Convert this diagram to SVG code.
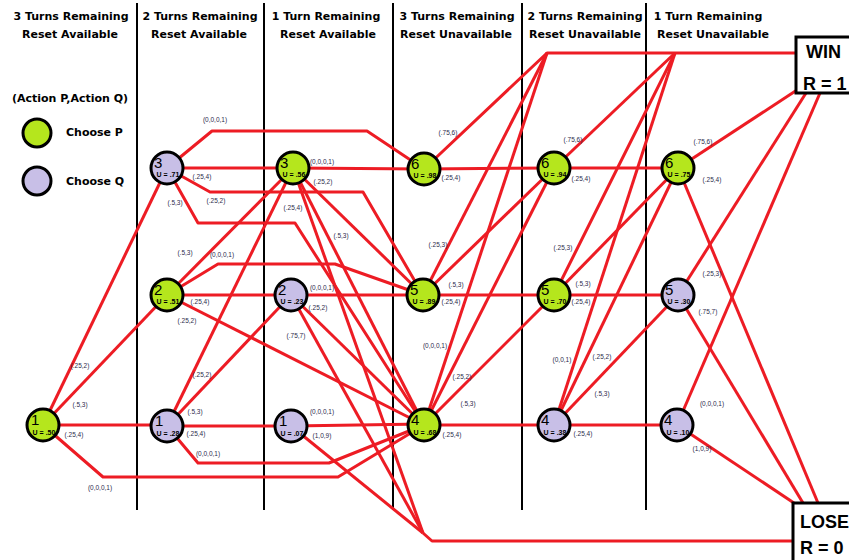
<svg xmlns="http://www.w3.org/2000/svg" width="849" height="560" viewBox="0 0 849 560">
<style>
.dv{stroke:#000;stroke-width:2}
.e{fill:none;stroke:#ed1c24;stroke-width:3;stroke-linejoin:round}
.h{font-family:"DejaVu Sans",sans-serif;font-weight:bold;font-size:11px;text-anchor:middle;fill:#000}
.nc{stroke:#000;stroke-width:3}
.g{fill:#b5e61d}
.p{fill:#c8bfe7}
.dg{font-family:"Liberation Sans",sans-serif;font-size:15px;fill:#000}
.u{font-family:"Liberation Sans",sans-serif;font-weight:bold;font-size:7px;text-anchor:middle;fill:#000}
.l{font-family:"Liberation Sans",sans-serif;font-size:6.5px;text-anchor:middle;fill:#2b2b4b}
.bx{fill:#fff;stroke:#000;stroke-width:3}
.bt{font-family:"Liberation Sans",sans-serif;font-weight:bold;font-size:18px;fill:#000}
</style>
<rect width="849" height="560" fill="#fff"/>
<g id="dividers">
<line class="dv" x1="137" y1="3" x2="137" y2="510"/>
<line class="dv" x1="264" y1="3" x2="264" y2="510"/>
<line class="dv" x1="393" y1="3" x2="393" y2="510"/>
<line class="dv" x1="522" y1="3" x2="522" y2="510"/>
<line class="dv" x1="646" y1="3" x2="646" y2="510"/>
</g>
<g id="headers">
<text class="h" x="71" y="20">3 Turns Remaining</text>
<text class="h" x="70" y="38">Reset Available</text>
<text class="h" x="200" y="20">2 Turns Remaining</text>
<text class="h" x="199" y="38">Reset Available</text>
<text class="h" x="326" y="20">1 Turn Remaining</text>
<text class="h" x="328" y="38">Reset Available</text>
<text class="h" x="457" y="20">3 Turns Remaining</text>
<text class="h" x="456" y="38">Reset Unavailable</text>
<text class="h" x="585" y="20">2 Turns Remaining</text>
<text class="h" x="585" y="38">Reset Unavailable</text>
<text class="h" x="708" y="20">1 Turn Remaining</text>
<text class="h" x="713" y="38">Reset Unavailable</text>
</g>
<g id="legend">
<text class="h" x="70" y="102">(Action P,Action Q)</text>
<circle class="nc g" cx="37" cy="133" r="14"/>
<text class="h" x="66" y="136" style="text-anchor:start">Choose P</text>
<circle class="nc p" cx="37" cy="181" r="14"/>
<text class="h" x="66" y="185" style="text-anchor:start">Choose Q</text>
</g>
<g id="connectors">
<path class="e" d="M43,425 L167,168"/>
<path class="e" d="M43,425 L167,295"/>
<path class="e" d="M43,425 L167,425"/>
<path class="e" d="M43,425 L103,477 L338,477 L424,425"/>
<path class="e" d="M167,426 L293,168"/>
<path class="e" d="M167,426 L291,295"/>
<path class="e" d="M167,426 L291,426"/>
<path class="e" d="M167,426 L198,463 L329,463 L424,425"/>
<path class="e" d="M167,168 L212,131 L367,131 L424,169"/>
<path class="e" d="M167,168 L293,168"/>
<path class="e" d="M167,168 L210,192 L363,192 L423,295"/>
<path class="e" d="M167,168 L198,223 L295,223 L424,425"/>
<path class="e" d="M167,295 L293,168"/>
<path class="e" d="M167,295 L218,264 L335,264 L423,295"/>
<path class="e" d="M167,295 L291,295"/>
<path class="e" d="M167,295 L424,425"/>
<path class="e" d="M293,168 L424,169"/>
<path class="e" d="M293,168 L423,295"/>
<path class="e" d="M293,168 L424,425"/>
<path class="e" d="M293,168 L423,533"/>
<path class="e" d="M291,295 L423,295"/>
<path class="e" d="M291,295 L424,425"/>
<path class="e" d="M291,295 L423,533"/>
<path class="e" d="M291,426 L424,424"/>
<path class="e" d="M291,426 L423,533"/>
<path class="e" d="M423,533 L432,541 L793,541"/>
<path class="e" d="M424,169 L547,53 L796,53"/>
<path class="e" d="M423,295 L547,53"/>
<path class="e" d="M424,425 L547,53"/>
<path class="e" d="M424,169 L554,168"/>
<path class="e" d="M423,295 L554,168"/>
<path class="e" d="M423,295 L554,295"/>
<path class="e" d="M424,425 L554,168"/>
<path class="e" d="M424,425 L554,295"/>
<path class="e" d="M424,425 L554,425"/>
<path class="e" d="M554,168 L675,53"/>
<path class="e" d="M554,295 L675,53"/>
<path class="e" d="M554,425 L675,53"/>
<path class="e" d="M554,168 L678,168"/>
<path class="e" d="M554,295 L678,168"/>
<path class="e" d="M554,295 L678,295"/>
<path class="e" d="M554,425 L678,168"/>
<path class="e" d="M554,425 L678,295"/>
<path class="e" d="M554,425 L677,425"/>
<path class="e" d="M678,168 L797,90"/>
<path class="e" d="M678,295 L806,93"/>
<path class="e" d="M677,425 L820,93"/>
<path class="e" d="M678,168 L818,503"/>
<path class="e" d="M678,295 L803,503"/>
<path class="e" d="M677,425 L794,503"/>
</g>
<g id="edge-labels">
<text class="l" x="80" y="368">(.25,2)</text>
<text class="l" x="80" y="407">(.5,3)</text>
<text class="l" x="74" y="437">(.25,4)</text>
<text class="l" x="100" y="490">(0,0,0,1)</text>
<text class="l" x="202" y="377">(.25,2)</text>
<text class="l" x="195" y="414">(.5,3)</text>
<text class="l" x="196" y="436">(.25,4)</text>
<text class="l" x="208" y="456">(0,0,0,1)</text>
<text class="l" x="215" y="122">(0,0,0,1)</text>
<text class="l" x="202" y="179">(.25,4)</text>
<text class="l" x="175" y="205">(.5,3)</text>
<text class="l" x="216" y="203">(.25,2)</text>
<text class="l" x="322" y="164">(0,0,0,1)</text>
<text class="l" x="323" y="184">(.25,2)</text>
<text class="l" x="293" y="210">(.25,4)</text>
<text class="l" x="341" y="238">(.5,3)</text>
<text class="l" x="185" y="255">(.5,3)</text>
<text class="l" x="222" y="257">(0,0,0,1)</text>
<text class="l" x="200" y="304">(.25,4)</text>
<text class="l" x="187" y="323">(.25,2)</text>
<text class="l" x="322" y="290">(0,0,0,1)</text>
<text class="l" x="318" y="310">(.25,2)</text>
<text class="l" x="296" y="338">(.75,7)</text>
<text class="l" x="322" y="414">(0,0,0,1)</text>
<text class="l" x="322" y="438">(1,0,9)</text>
<text class="l" x="448" y="135">(.75,6)</text>
<text class="l" x="451" y="180">(.25,4)</text>
<text class="l" x="438" y="247">(.25,3)</text>
<text class="l" x="456" y="287">(.5,3)</text>
<text class="l" x="451" y="304">(.25,4)</text>
<text class="l" x="435" y="348">(0,0,0,1)</text>
<text class="l" x="462" y="379">(.25,2)</text>
<text class="l" x="468" y="406">(.5,3)</text>
<text class="l" x="452" y="437">(.25,4)</text>
<text class="l" x="573" y="142">(.75,6)</text>
<text class="l" x="581" y="181">(.25,4)</text>
<text class="l" x="563" y="250">(.25,3)</text>
<text class="l" x="583" y="286">(.5,3)</text>
<text class="l" x="581" y="304">(.25,4)</text>
<text class="l" x="562" y="362">(0,0,1)</text>
<text class="l" x="602" y="359">(.25,2)</text>
<text class="l" x="602" y="396">(.5,3)</text>
<text class="l" x="583" y="436">(.25,4)</text>
<text class="l" x="703" y="144">(.75,6)</text>
<text class="l" x="712" y="182">(.25,4)</text>
<text class="l" x="712" y="276">(.25,3)</text>
<text class="l" x="708" y="314">(.75,7)</text>
<text class="l" x="712" y="406">(0,0,0,1)</text>
<text class="l" x="702" y="451">(1,0,9)</text>
</g>
<g id="n-c1-1"><circle class="nc g" cx="43" cy="425" r="16"/><text class="dg" x="31" y="425">1</text><text class="u" x="44" y="435">U = .50</text></g>
<g id="n-c2-3"><circle class="nc p" cx="167" cy="168" r="16"/><text class="dg" x="154" y="168">3</text><text class="u" x="168" y="177">U = .71</text></g>
<g id="n-c2-2"><circle class="nc g" cx="167" cy="295" r="16"/><text class="dg" x="154" y="295">2</text><text class="u" x="168" y="304">U = .51</text></g>
<g id="n-c2-1"><circle class="nc p" cx="167" cy="426" r="16"/><text class="dg" x="155" y="426">1</text><text class="u" x="168" y="436">U = .28</text></g>
<g id="n-c3-3"><circle class="nc g" cx="293" cy="168" r="16"/><text class="dg" x="280" y="168">3</text><text class="u" x="294" y="177">U = .56</text></g>
<g id="n-c3-2"><circle class="nc p" cx="291" cy="295" r="16"/><text class="dg" x="278" y="295">2</text><text class="u" x="292" y="304">U = .23</text></g>
<g id="n-c3-1"><circle class="nc p" cx="291" cy="426" r="16"/><text class="dg" x="279" y="426">1</text><text class="u" x="292" y="436">U = .07</text></g>
<g id="n-c4-6"><circle class="nc g" cx="424" cy="169" r="16"/><text class="dg" x="411" y="169">6</text><text class="u" x="425" y="178">U = .98</text></g>
<g id="n-c4-5"><circle class="nc g" cx="423" cy="295" r="16"/><text class="dg" x="410" y="295">5</text><text class="u" x="424" y="304">U = .89</text></g>
<g id="n-c4-4"><circle class="nc g" cx="424" cy="425" r="16"/><text class="dg" x="411" y="425">4</text><text class="u" x="425" y="435">U = .68</text></g>
<g id="n-c5-6"><circle class="nc g" cx="554" cy="168" r="16"/><text class="dg" x="541" y="168">6</text><text class="u" x="555" y="177">U = .94</text></g>
<g id="n-c5-5"><circle class="nc g" cx="554" cy="295" r="16"/><text class="dg" x="541" y="295">5</text><text class="u" x="555" y="304">U = .70</text></g>
<g id="n-c5-4"><circle class="nc p" cx="554" cy="425" r="16"/><text class="dg" x="541" y="425">4</text><text class="u" x="555" y="435">U = .38</text></g>
<g id="n-c6-6"><circle class="nc g" cx="678" cy="168" r="16"/><text class="dg" x="665" y="168">6</text><text class="u" x="679" y="177">U = .75</text></g>
<g id="n-c6-5"><circle class="nc p" cx="678" cy="295" r="16"/><text class="dg" x="665" y="295">5</text><text class="u" x="679" y="304">U = .30</text></g>
<g id="n-c6-4"><circle class="nc p" cx="677" cy="425" r="16"/><text class="dg" x="664" y="425">4</text><text class="u" x="678" y="435">U = .10</text></g>
<g id="win"><rect class="bx" x="796" y="37" width="60" height="56"/><text class="bt" x="806" y="58">WIN</text><text class="bt" x="803" y="90">R = 1</text></g>
<g id="lose"><rect class="bx" x="793" y="503" width="62" height="62"/><text class="bt" x="800" y="528">LOSE</text><text class="bt" x="800" y="554">R = 0</text></g>
</svg>
